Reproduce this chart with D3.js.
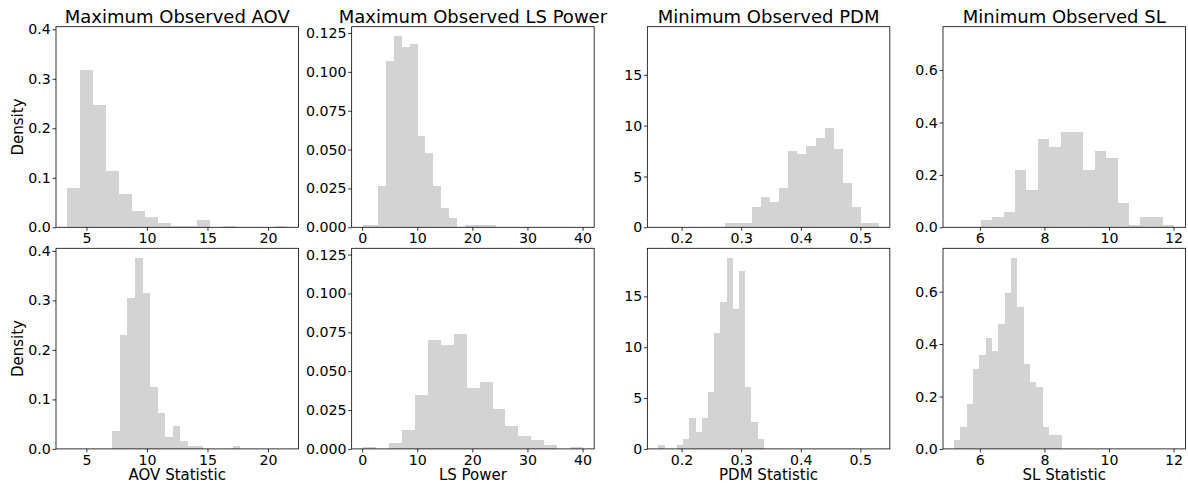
<!DOCTYPE html>
<meta charset="utf-8">
<script src="https://d3js.org/d3.v7.min.js"></script>
<style>
  body { margin: 0; background: #fff; }
  text { font-family: "DejaVu Sans", sans-serif; fill: #000; }
</style>
<div id="my_dataviz"></div>
<script>

// panel titles and axis labels
var titles = ["Maximum Observed AOV", "Maximum Observed LS Power", "Minimum Observed PDM", "Minimum Observed SL"];
var xLabels = ["AOV Statistic", "LS Power", "PDM Statistic", "SL Statistic"];

// histogram densities (17 equal bins each) and the value range the bins cover
var aovMaxDensity = [0.079, 0.317, 0.247, 0.114, 0.067, 0.033, 0.020, 0.008, 0.002, 0.002, 0.014, 0, 0.002, 0, 0, 0, 0.002];
var aovMaxRange = [3.40, 21.61];
var aovDensity = [0.037, 0.230, 0.304, 0.386, 0.314, 0.126, 0.073, 0.025, 0.047, 0.015, 0.005, 0.005, 0, 0, 0, 0, 0.005];
var aovRange = [7.15, 17.71];

var lsMaxDensity = [0.0017, 0.0017, 0.0264, 0.107, 0.1229, 0.1158, 0.118, 0.059, 0.048, 0.0264, 0.0127, 0.0062, 0, 0.0017, 0.0017, 0.0017, 0.0017];
var lsMaxRange = [0.10, 24.31];
var lsDensity = [0.001, 0, 0.0037, 0.012, 0.0347, 0.0703, 0.067, 0.0741, 0.0392, 0.0431, 0.0256, 0.0149, 0.0084, 0.0056, 0.0024, 0, 0.001];
var lsRange = [0.18, 40.11];

var pdmMinDensity = [0.46, 0.46, 0.46, 2.03, 3.0, 2.5, 3.9, 7.53, 7.23, 7.95, 8.8, 9.79, 7.72, 4.32, 2.03, 0.46, 0.46];
var pdmMinRange = [0.273, 0.531];
var pdmDensity = [0.39, 0, 0, 0.39, 0.95, 3.05, 1.64, 3.05, 5.64, 11.38, 14.4, 18.79, 13.77, 17.5, 6.1, 2.62, 0.95];
var pdmRange = [0.161, 0.338];

var slMinDensity = [0.029, 0.040, 0.057, 0.218, 0.142, 0.338, 0.308, 0.365, 0.365, 0.218, 0.293, 0.263, 0.094, 0.009, 0.040, 0.040, 0.009];
var slMinRange = [6.03, 12.03];
var slDensity = [0.033, 0.083, 0.171, 0.306, 0.358, 0.423, 0.373, 0.476, 0.595, 0.729, 0.543, 0.324, 0.255, 0.237, 0.085, 0.053, 0.053];
var slRange = [5.20, 8.54];

// tick values per column
var xTicks = [[5, 10, 15, 20], [0, 10, 20, 30, 40], [0.2, 0.3, 0.4, 0.5], [6, 8, 10, 12]];
var yTicks = [[0, 0.1, 0.2, 0.3, 0.4], [0, 0.025, 0.05, 0.075, 0.1, 0.125], [0, 5, 10, 15], [0, 0.2, 0.4, 0.6]];
var xFormats = ["d", "d", ".1f", "d"];
var yFormats = [".1f", ".3f", "d", ".1f"];

// columns: [top row, bottom row]
var columns = [
  [{density: aovMaxDensity, range: aovMaxRange}, {density: aovDensity, range: aovRange}],
  [{density: lsMaxDensity, range: lsMaxRange}, {density: lsDensity, range: lsRange}],
  [{density: pdmMinDensity, range: pdmMinRange}, {density: pdmDensity, range: pdmRange}],
  [{density: slMinDensity, range: slMinRange}, {density: slDensity, range: slRange}]
];

// layout
var W = 1188, H = 485;
var colLeft = 56, colStep = 295.67, panelW = 242.5;
var rowTop = [26.7, 248.3], panelH = 200.6;

var svg = d3.select("#my_dataviz")
  .append("svg")
    .attr("width", W)
    .attr("height", H);

columns.forEach(function(col, c) {

  // bins for each row
  var rows = col.map(function(r) {
    var n = r.density.length, w = (r.range[1] - r.range[0]) / n;
    return r.density.map(function(v, i) {
      return {x0: r.range[0] + i * w, x1: r.range[0] + (i + 1) * w, y: v};
    });
  });

  // shared scales, matplotlib-style 5% margins on x and top of y
  var lo = d3.min(col, function(r) { return r.range[0]; });
  var hi = d3.max(col, function(r) { return r.range[1]; });
  var pad = (hi - lo) * 0.05;
  var ymax = d3.max(col, function(r) { return d3.max(r.density); }) * 1.05;

  var x = d3.scaleLinear().domain([lo - pad, hi + pad]).range([0, panelW]);
  var y = d3.scaleLinear().domain([0, ymax]).range([panelH, 0]);

  rows.forEach(function(bins, r) {
    var g = svg.append("g")
      .attr("transform", "translate(" + (colLeft + c * colStep) + "," + rowTop[r] + ")");

    g.selectAll("rect.bar")
      .data(bins)
      .enter()
      .append("rect")
        .attr("class", "bar")
        .attr("x", function(d) { return x(d.x0); })
        .attr("width", function(d) { return x(d.x1) - x(d.x0); })
        .attr("y", function(d) { return y(d.y); })
        .attr("height", function(d) { return panelH - y(d.y); })
        .attr("shape-rendering", "crispEdges")
        .style("fill", "#d3d3d3");

    // x axis
    var xa = g.append("g")
      .attr("transform", "translate(0," + panelH + ")")
      .call(d3.axisBottom(x).tickValues(xTicks[c]).tickFormat(d3.format(xFormats[c]))
        .tickSize(3.5).tickPadding(2.4));
    // y axis
    var ya = g.append("g")
      .call(d3.axisLeft(y).tickValues(yTicks[c]).tickFormat(d3.format(yFormats[c]))
        .tickSize(3.5).tickPadding(1.6));

    [xa, ya].forEach(function(a) {
      a.select(".domain").remove();
      a.selectAll("line").attr("stroke", "#000").attr("stroke-width", 0.8);
      a.selectAll("text").attr("font-size", "14.2px").attr("font-family", "DejaVu Sans").attr("fill", "#000");
    });

    // frame
    g.append("rect")
      .attr("width", panelW)
      .attr("height", panelH)
      .attr("fill", "none")
      .attr("stroke", "#000")
      .attr("stroke-width", 0.8);

    if (r == 0) {
      g.append("text")
        .attr("x", panelW / 2)
        .attr("y", -3.7)
        .attr("text-anchor", "middle")
        .attr("font-size", "18px")
        .text(titles[c]);
    } else {
      g.append("text")
        .attr("x", panelW / 2)
        .attr("y", panelH + 31.3)
        .attr("text-anchor", "middle")
        .attr("font-size", "15px")
        .text(xLabels[c]);
    }

    if (c == 0) {
      g.append("text")
        .attr("transform", "translate(" + (23.2 - colLeft) + "," + (panelH / 2) + ") rotate(-90)")
        .attr("text-anchor", "middle")
        .attr("font-size", "15px")
        .text("Density");
    }
  });
});

</script>
